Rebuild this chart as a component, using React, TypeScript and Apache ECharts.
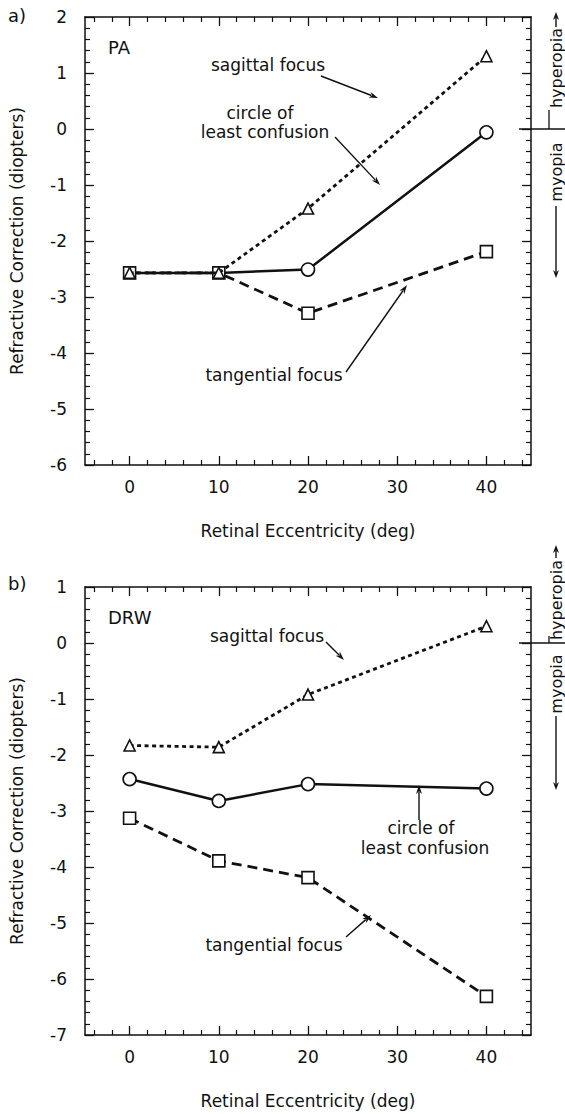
import React, { useEffect, useRef } from "react";
import * as echarts from "echarts";

// ---- data ----
const eccentricity = [0, 10, 20, 40];
const xTickLabels = [0, 10, 20, 30, 40];

// Panel a) PA
const paSagittal = [-2.57, -2.57, -1.42, 1.3];
const paCircle = [-2.57, -2.57, -2.51, -0.06];
const paTangential = [-2.57, -2.57, -3.29, -2.19];

// Panel b) DRW
const drwSagittal = [-1.83, -1.86, -0.92, 0.3];
const drwCircle = [-2.43, -2.82, -2.52, -2.6];
const drwTangential = [-3.13, -3.89, -4.19, -6.31];

const panelYRange = [
  [-6, 2],
  [-7, 1],
];

const INK = "#111";
const FONT = "DejaVu Sans";

const minorX: number[] = [];
for (let v = -4; v <= 44; v += 2) if (v % 10 !== 0) minorX.push(v);

function xAxesFor(g: number) {
  const base = {
    gridIndex: g,
    type: "value",
    min: -5,
    max: 45,
    splitLine: { show: false },
  };
  const line = { show: true, onZero: false, lineStyle: { color: INK, width: 1.5 } };
  return [
    {
      ...base,
      position: "bottom",
      axisLine: line,
      axisTick: { show: true, inside: true, length: 9, customValues: xTickLabels, lineStyle: { color: INK, width: 1.3 } },
      axisLabel: { show: true, customValues: xTickLabels, margin: 13, fontSize: 17, color: INK, fontFamily: FONT },
      name: "Retinal Eccentricity (deg)",
      nameLocation: "middle",
      nameGap: 57,
      nameTextStyle: { fontSize: 17, color: INK, fontFamily: FONT },
    },
    {
      ...base,
      position: "bottom",
      axisLine: { show: false, onZero: false },
      axisTick: { show: true, inside: true, length: 5, customValues: minorX, lineStyle: { color: INK, width: 1.2 } },
      axisLabel: { show: false },
    },
    {
      ...base,
      position: "top",
      axisLine: line,
      axisTick: { show: true, inside: true, length: 9, customValues: xTickLabels, lineStyle: { color: INK, width: 1.3 } },
      axisLabel: { show: false },
    },
    {
      ...base,
      position: "top",
      axisLine: { show: false, onZero: false },
      axisTick: { show: true, inside: true, length: 5, customValues: minorX, lineStyle: { color: INK, width: 1.2 } },
      axisLabel: { show: false },
    },
  ];
}

function yAxesFor(g: number) {
  const [mn, mx] = panelYRange[g];
  const base = {
    gridIndex: g,
    type: "value",
    min: mn,
    max: mx,
    interval: 1,
    splitLine: { show: false },
    axisLine: { show: true, onZero: false, lineStyle: { color: INK, width: 1.5 } },
    axisTick: { show: true, inside: true, length: 9, lineStyle: { color: INK, width: 1.3 } },
    minorTick: { show: true, splitNumber: 5, length: 5, lineStyle: { color: INK, width: 1.2 } },
  };
  return [
    {
      ...base,
      position: "left",
      axisLabel: { show: true, margin: 18, fontSize: 17, color: INK, fontFamily: FONT },
      name: "Refractive Correction (diopters)",
      nameLocation: "middle",
      nameGap: 60,
      nameTextStyle: { fontSize: 17, color: INK, fontFamily: FONT },
    },
    {
      ...base,
      position: "right",
      axisLabel: { show: false },
    },
  ];
}

function pts(vals: number[], hideFirst = 0) {
  return eccentricity.map((x, i) =>
    i < hideFirst ? { value: [x, vals[i]], symbol: "none" } : { value: [x, vals[i]] }
  );
}

const markerStyle = { color: "#fff", borderColor: INK, borderWidth: 1.6 };

function seriesFor(g: number, sag: number[], circ: number[], tan: number[], hideCircle: number) {
  const common = {
    type: "line",
    xAxisIndex: g * 4,
    yAxisIndex: g * 2,
    showAllSymbol: true,
    itemStyle: markerStyle,
    emphasis: { disabled: true },
  };
  return [
    {
      ...common,
      name: "circle of least confusion",
      data: pts(circ, hideCircle),
      symbol: "circle",
      symbolSize: 13,
      lineStyle: { color: INK, width: 2.5, type: "solid" },
      z: 2,
    },
    {
      ...common,
      name: "tangential focus",
      data: pts(tan),
      symbol: "rect",
      symbolSize: 12,
      lineStyle: { color: INK, width: 2.8, type: [10, 6] },
      z: 3,
    },
    {
      ...common,
      name: "sagittal focus",
      data: pts(sag),
      symbol: "triangle",
      symbolSize: 11,
      lineStyle: { color: INK, width: 2.8, type: [4, 3.5] },
      z: 4,
    },
  ];
}

function txt(text: string, x: number, y: number, opts: any = {}) {
  return {
    type: "text",
    x,
    y,
    rotation: opts.rotation || 0,
    z: 10,
    style: {
      text,
      fill: INK,
      fontSize: opts.fontSize || 17,
      fontFamily: FONT,
      align: opts.align || "center",
      verticalAlign: "middle",
      textAlign: opts.align || "center",
      textVerticalAlign: "middle",
    },
  };
}

function arrow(x1: number, y1: number, x2: number, y2: number, head = 9, half = 3) {
  const dx = x2 - x1;
  const dy = y2 - y1;
  const len = Math.sqrt(dx * dx + dy * dy);
  const ux = dx / len;
  const uy = dy / len;
  const bx = x2 - ux * head;
  const by = y2 - uy * head;
  const nx = -uy;
  const ny = ux;
  return [
    {
      type: "line",
      z: 10,
      shape: { x1, y1, x2: bx + ux * 2, y2: by + uy * 2 },
      style: { stroke: INK, lineWidth: 1.4 },
    },
    {
      type: "polygon",
      z: 10,
      shape: {
        points: [
          [x2, y2],
          [bx + nx * half, by + ny * half],
          [x2 - ux * head * 0.7, y2 - uy * head * 0.7],
          [bx - nx * half, by - ny * half],
        ],
      },
      style: { fill: INK },
    },
  ];
}

function hline(x1: number, x2: number, y: number) {
  return { type: "line", z: 10, shape: { x1, y1: y, x2, y2: y }, style: { stroke: INK, lineWidth: 1.3 } };
}
function vline(x: number, y1: number, y2: number) {
  return { type: "line", z: 10, shape: { x1: x, y1, x2: x, y2 }, style: { stroke: INK, lineWidth: 1.3 } };
}

export default function App() {
  const ref = useRef<HTMLDivElement>(null);
  useEffect(() => {
    if (!ref.current) return;
    const chart = echarts.init(ref.current, undefined, { renderer: "svg" });
    const up = Math.PI / 2;
    const graphic: any[] = [
      // panel a
      txt("a)", 8, 15, { align: "left", fontSize: 18 }),
      txt("PA", 108, 47, { align: "left", fontSize: 18 }),
      txt("sagittal focus", 268, 65),
      ...arrow(321, 76, 378, 98),
      txt("circle of", 260, 113),
      txt("least confusion", 265, 132),
      ...arrow(335, 137, 380, 185),
      txt("tangential focus", 274, 375),
      ...arrow(346, 372, 407, 285),
      // right side a
      txt("hyperopia", 556, 68, { rotation: up, fontSize: 16 }),
      ...arrow(556, 27, 556, 12, 8, 3),
      vline(549, 110, 129),
      hline(519, 565, 129),
      txt("myopia", 556, 172, { rotation: up, fontSize: 16 }),
      ...arrow(556, 206, 556, 278, 8, 3),
      // panel b
      txt("b)", 8, 583, { align: "left", fontSize: 18 }),
      txt("DRW", 108, 617, { align: "left", fontSize: 18 }),
      txt("sagittal focus", 267, 636),
      ...arrow(326, 642, 344, 660),
      txt("circle of", 421, 828),
      txt("least confusion", 425, 848),
      ...arrow(419, 820, 419, 785),
      txt("tangential focus", 274, 945),
      ...arrow(346, 937, 371, 915),
      // right side b
      txt("hyperopia", 556, 600, { rotation: up, fontSize: 16 }),
      ...arrow(556, 558, 556, 545, 8, 3),
      vline(549, 636, 643),
      hline(519, 565, 643),
      txt("myopia", 556, 684, { rotation: up, fontSize: 16 }),
      ...arrow(556, 716, 556, 790, 8, 3),
    ];
    chart.setOption({
      animation: false,
      backgroundColor: "#fff",
      textStyle: { fontFamily: FONT },
      grid: [
        { left: 85, top: 17, width: 446, height: 448 },
        { left: 84, top: 587, width: 447, height: 448 },
      ],
      xAxis: [...xAxesFor(0), ...xAxesFor(1)],
      yAxis: [...yAxesFor(0), ...yAxesFor(1)],
      series: [
        ...seriesFor(0, paSagittal, paCircle, paTangential, 2),
        ...seriesFor(1, drwSagittal, drwCircle, drwTangential, 0),
      ],
      graphic,
    });
    return () => chart.dispose();
  }, []);
  return (
    <div
      ref={ref}
      style={{ position: "absolute", left: 0, top: 0, width: 565, height: 1114, background: "#fff" }}
    />
  );
}
